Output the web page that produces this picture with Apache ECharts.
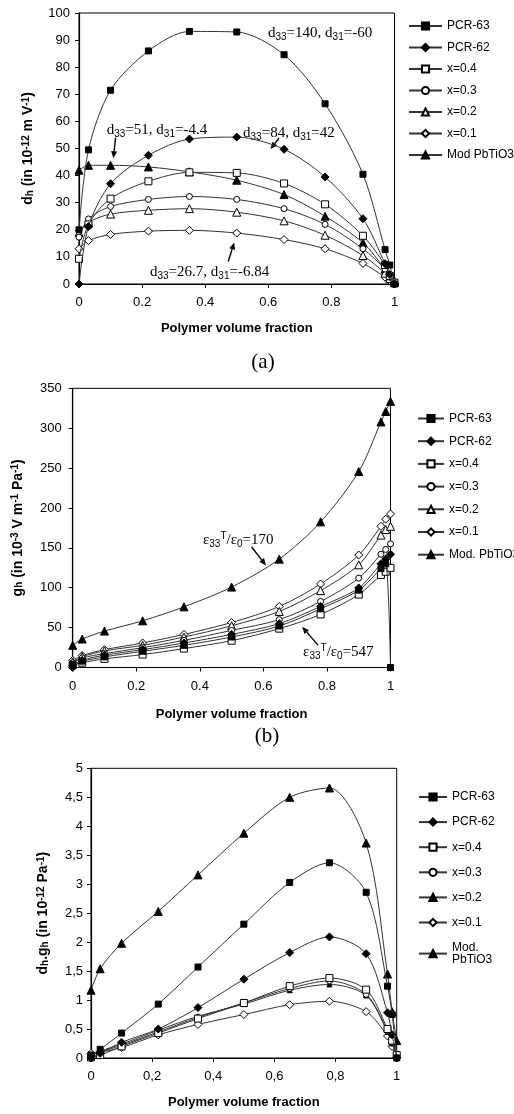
<!DOCTYPE html>
<html>
<head>
<meta charset="utf-8">
<script src="https://cdn.jsdelivr.net/npm/echarts@6/dist/echarts.min.js"></script>
<style>
html, body { margin: 0; padding: 0; background: #fff; }
#wrap { position: relative; width: 514px; height: 1114px; }
.panel { position: absolute; left: 0; width: 514px; }
</style>
</head>
<body>
<div id="wrap">
    <div id="chart-a" class="panel" style="top:0;height:375px"></div>
    <div id="chart-b" class="panel" style="top:375px;height:375px"></div>
    <div id="chart-c" class="panel" style="top:750px;height:364px"></div>
</div>
<script>
// polymer volume fraction (x) shared by every curve
const fraction = [0, 0.03, 0.1, 0.22, 0.35, 0.5, 0.65, 0.78, 0.9, 0.97, 0.985, 1];

const names = ['PCR-63', 'PCR-62', 'x=0.4', 'x=0.3', 'x=0.2', 'x=0.1'];
const modNames = ['Mod PbTiO3', 'Mod. PbTiO3', 'Mod.\nPbTiO3'];

// (a) d_h
const dhPcr63 = [20, 49.5, 71.5, 86, 93.2, 93, 84.6, 66.5, 40.5, 12.7, 7, 0];
const dhPcr62 = [0, 21.2, 37, 47.5, 53.5, 54.2, 49.7, 39.5, 24.1, 7.5, 3.5, 0];
const dhX04 = [9.3, 22, 31.5, 37.9, 41.2, 41, 37.1, 29.4, 17.8, 7, 3, 0.5];
const dhX03 = [17.3, 24, 28.6, 31.2, 32.3, 31.2, 27.8, 22, 13, 5.5, 2.5, 0.5];
const dhX02 = [19, 22.8, 25.8, 27.2, 27.8, 26.5, 23.3, 18, 10.5, 4, 2, 0.5];
const dhX01 = [13, 16, 18.3, 19.5, 19.8, 18.8, 16.4, 13, 7.6, 2.5, 1.2, 0];
const dhMod = [42, 43.8, 43.8, 43.2, 41.4, 38.3, 33, 25, 15.2, 5.5, 3, 1];

// (b) g_h
const ghPcr63 = [4, 8, 13.3, 20.3, 27.8, 38.2, 52, 73.6, 97, 124, 130, 0];
const ghPcr62 = [0, 9, 15.4, 22.4, 30.7, 41.5, 55, 76.5, 99.7, 130, 136, 142];
const ghX04 = [3, 6, 10.8, 16.2, 23.7, 33.6, 48.7, 66.5, 91.4, 116, 120, 125];
const ghX03 = [6, 12, 17.4, 24.9, 34, 46.5, 60, 82.7, 112, 142, 148, 155];
const ghX02 = [7, 13.5, 20.8, 27.8, 38.2, 52.3, 70.3, 96.4, 128.7, 166, 173, 177];
const ghX01 = [9, 15, 22.4, 30.7, 41.5, 56.4, 76.5, 104.7, 141, 177, 186, 192.5];
const ghMod = [27.8, 35.7, 45.6, 58.5, 76, 100.8, 135.8, 182.6, 245.6, 307.8, 321, 333.6];

// (c) d_h.g_h
const dgPcr63 = [0.05, 0.15, 0.43, 0.93, 1.57, 2.31, 3.03, 3.37, 2.86, 1.24, 0.75, 0];
const dgPcr62 = [0, 0.08, 0.27, 0.5, 0.87, 1.36, 1.82, 2.09, 1.8, 0.78, 0.4, 0];
const dgX04 = [0.01, 0.05, 0.2, 0.43, 0.68, 0.95, 1.24, 1.38, 1.18, 0.5, 0.3, 0.05];
const dgX03 = [0.05, 0.1, 0.22, 0.45, 0.7, 0.95, 1.2, 1.33, 1.1, 0.47, 0.28, 0.05];
const dgX02 = [0.05, 0.12, 0.24, 0.48, 0.72, 0.93, 1.17, 1.27, 1.08, 0.45, 0.25, 0.05];
const dgX01 = [0.08, 0.1, 0.18, 0.4, 0.58, 0.75, 0.92, 0.98, 0.8, 0.38, 0.2, 0];
const dgMod = [1.17, 1.54, 1.98, 2.53, 3.16, 3.88, 4.5, 4.66, 3.71, 1.45, 0.8, 0.3];

const SANS = '"Liberation Sans", Arial, sans-serif';
const SERIF = '"Liberation Serif", "Times New Roman", serif';

const markers = [
    { symbol: 'rect', size: 6, fill: '#000' },
    { symbol: 'diamond', size: 8, fill: '#000' },
    { symbol: 'rect', size: 7, fill: '#fff' },
    { symbol: 'circle', size: 6, fill: '#fff' },
    { symbol: 'triangle', size: 8, fill: '#fff' },
    { symbol: 'diamond', size: 8, fill: '#fff' },
    { symbol: 'triangle', size: 8, fill: '#000' }
];

const subSup = {
    s: { fontSize: 10, lineHeight: 10, verticalAlign: 'bottom' },
    u: { fontSize: 10, lineHeight: 10, verticalAlign: 'top' }
};

function makeSeries(allNames, allValues, panelMarkers) {
    return allValues.map((vals, i) => ({
        type: 'line',
        name: allNames[i],
        data: fraction.map((f, j) => [f, vals[j]]),
        smooth: 0.3,
        clip: false,
        symbol: panelMarkers[i].symbol,
        symbolSize: panelMarkers[i].size,
        lineStyle: { color: '#333', width: 1 },
        itemStyle: { color: panelMarkers[i].fill, borderColor: '#000', borderWidth: 1 },
        emphasis: { disabled: true },
        z: 10 - i
    }));
}

function comma(v) { return String(v).replace('.', ','); }

function baseOption(p) {
    return {
        animation: false,
        grid: { left: p.grid[0], top: p.grid[1], width: p.grid[2], height: p.grid[3], show: true, borderColor: '#000', borderWidth: 1 },
        xAxis: {
            type: 'value', min: 0, max: 1, interval: 0.2,
            name: 'Polymer volume fraction', nameLocation: 'middle', nameGap: p.xNameGap,
            nameTextStyle: { fontFamily: SANS, fontWeight: 'bold', fontSize: 13, color: '#000' },
            axisLine: { lineStyle: { color: '#000', width: 1.2 } },
            axisTick: { length: 4, lineStyle: { color: '#000' } },
            axisLabel: { fontFamily: SANS, fontSize: 13, color: '#000', margin: 12, formatter: p.comma ? comma : null },
            splitLine: { show: false }
        },
        yAxis: {
            type: 'value', min: 0, max: p.yMax, interval: p.yStep,
            name: p.yName, nameLocation: 'middle', nameGap: p.yNameGap,
            nameTextStyle: { fontFamily: SANS, fontWeight: 'bold', fontSize: 14, color: '#000', rich: subSup },
            axisLine: { lineStyle: { color: '#000', width: 1.2 } },
            axisTick: { length: 4, lineStyle: { color: '#000' } },
            axisLabel: { fontFamily: SANS, fontSize: 13, color: '#000', margin: p.yLabelMargin, formatter: p.comma ? comma : null },
            splitLine: { show: false }
        },
        legend: {
            orient: 'vertical', left: p.legend[0], top: p.legend[1],
            itemWidth: p.legend[2], itemHeight: 9, itemGap: p.legend[3],
            textStyle: { fontFamily: SANS, fontSize: 12, color: '#000' },
            data: p.names
        },
        series: makeSeries(p.names, p.values, p.markers)
    };
}

function arrowShapes(p1, p2) {
    const dx = p2[0] - p1[0], dy = p2[1] - p1[1];
    const len = Math.hypot(dx, dy);
    const ux = dx / len, uy = dy / len;
    const head = 7, half = 3;
    const bx = p2[0] - ux * head, by = p2[1] - uy * head;
    return [
        { type: 'line', shape: { x1: p1[0], y1: p1[1], x2: bx, y2: by }, style: { stroke: '#000', lineWidth: 1.4 } },
        { type: 'polygon', shape: { points: [p2, [bx - uy * half, by + ux * half], [bx + uy * half, by - ux * half]] }, style: { fill: '#000' } }
    ];
}

function drawNotes(chart, notes, panelLabel) {
    const elements = [];
    notes.forEach(n => {
        const pos = chart.convertToPixel({ gridIndex: 0 }, n.at);
        elements.push({
            type: 'text', x: pos[0], y: pos[1],
            style: { text: n.text, rich: subSup, font: '15px ' + SERIF, fill: '#000', verticalAlign: 'middle', lineHeight: 18 }
        });
        if (n.from) {
            const a = chart.convertToPixel({ gridIndex: 0 }, n.from);
            const b = chart.convertToPixel({ gridIndex: 0 }, n.to);
            elements.push(...arrowShapes(a, b));
        }
    });
    if (panelLabel) {
        elements.push({
            type: 'text', x: panelLabel.x, y: panelLabel.y,
            style: { text: panelLabel.text, font: '21px ' + SERIF, fill: '#000', align: 'center', verticalAlign: 'middle' }
        });
    }
    chart.setOption({ graphic: elements });
}

const panels = [
    {
        id: 'chart-a',
        grid: [79, 13, 315.5, 271], yMax: 100, yStep: 10, yLabelMargin: 9,
        yName: 'd{s|h} (in 10{u|-12} m V{u|-1})', yNameGap: 44, xNameGap: 38,
        legend: [403, 15, 33, 9.5],
        names: names.concat(modNames[0]),
        values: [dhPcr63, dhPcr62, dhX04, dhX03, dhX02, dhX01, dhMod],
        markers: markers,
        notes: [
            { text: 'd{s|33}=140, d{s|31}=-60', at: [0.599, 92.6] },
            { text: 'd{s|33}=84, d{s|31}=42', at: [0.52, 55.6], from: [0.634, 53.8], to: [0.607, 49.8] },
            { text: 'd{s|33}=51, d{s|31}=-4.4', at: [0.088, 56.7], from: [0.116, 54], to: [0.109, 46.4] },
            { text: 'd{s|33}=26.7, d{s|31}=-6.84', at: [0.225, 4.25], from: [0.473, 8.3], to: [0.492, 15.3] }
        ],
        label: { text: '(a)', x: 263, y: 362 }
    },
    {
        id: 'chart-b',
        grid: [72.7, 13.3, 317.8, 279.2], yMax: 350, yStep: 50, yLabelMargin: 11,
        yName: 'g{s|h} (in 10{u|-3} V m{u|-1} Pa{u|-1})', yNameGap: 48, xNameGap: 40,
        legend: [412, 32.5, 26, 10.7],
        names: names.concat(modNames[1]),
        values: [ghPcr63, ghPcr62, ghX04, ghX03, ghX02, ghX01, ghMod],
        markers: markers,
        notes: [
            { text: 'ε{s|33}{u|T}/ε{s|0}=170', at: [0.41, 160], from: [0.563, 151], to: [0.608, 128] },
            { text: 'ε{s|33}{u|T}/ε{s|0}=547', at: [0.725, 19.7], from: [0.772, 28], to: [0.722, 51] }
        ],
        label: { text: '(b)', x: 267, y: 361.7 }
    },
    {
        id: 'chart-c',
        grid: [91, 18.3, 305.7, 294], yMax: 5, yStep: 0.5, yLabelMargin: 8, comma: true,
        yName: 'd{s|h}.g{s|h} (in 10{u|-12} Pa{u|-1})', yNameGap: 41, xNameGap: 38,
        legend: [413, 36, 28, 13.1],
        names: names.concat(modNames[2]),
        values: [dgPcr63, dgPcr62, dgX04, dgX03, dgX02, dgX01, dgMod],
        markers: markers.map((m, i) => i === 4 ? { symbol: 'triangle', size: 5, fill: '#000' } : m),
        notes: [],
        label: null
    }
];

panels.forEach(p => {
    const chart = echarts.init(document.getElementById(p.id), null, { renderer: 'canvas' });
    chart.setOption(baseOption(p));
    drawNotes(chart, p.notes, p.label);
});
</script>
</body>
</html>
